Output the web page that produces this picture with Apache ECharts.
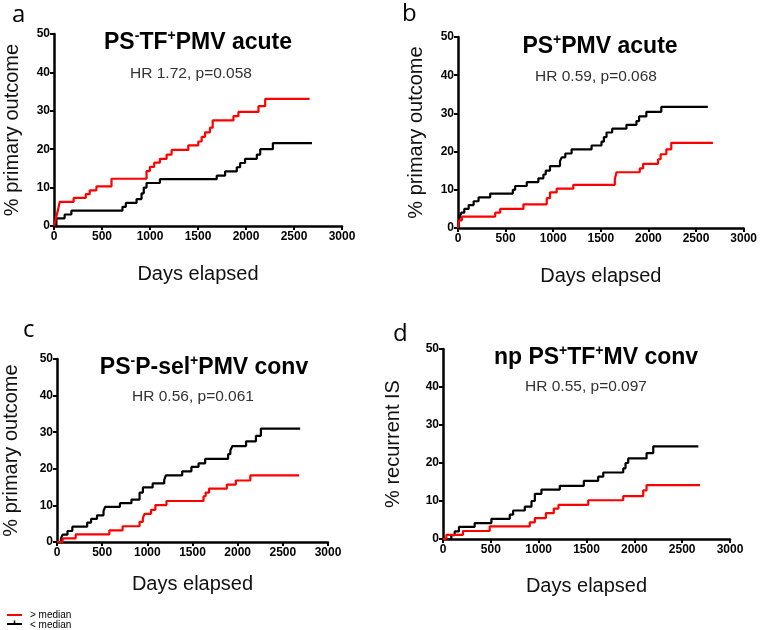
<!DOCTYPE html>
<html><head><meta charset="utf-8">
<script src="https://cdn.jsdelivr.net/npm/echarts@6/dist/echarts.min.js"></script>
<style>html,body{margin:0;padding:0;background:#fff}#c{width:760px;height:630px}</style>
</head><body><div id="c"></div><script>
// ---- tick labels ----
const xTickValues = [0, 500, 1000, 1500, 2000, 2500, 3000];
const yTickValues = [0, 10, 20, 30, 40, 50];

// ---- panel a: PS-TF+PMV acute ----
const aRedDays = [0, 20, 40, 60, 205, 331, 372, 442, 599, 964, 999, 1044, 1103, 1173, 1225, 1399, 1503, 1538, 1573, 1625, 1653, 1869, 1921, 2130, 2200, 2662];
const aRedPct  = [0, 2, 4, 6.3, 7.3, 8.3, 9.3, 10.3, 12.3, 14.3, 15.4, 16.5, 17.5, 18.6, 19.8, 21, 22, 23.2, 24.4, 25.6, 27.5, 28.6, 29.7, 31.2, 33.1, 33.1];
const aBlackDays = [0, 25, 111, 181, 713, 748, 860, 912, 935, 964, 1103, 1695, 1782, 1904, 1939, 1990, 2113, 2148, 2280, 2687];
const aBlackPct  = [0, 2, 3, 4, 5, 6, 7, 8.5, 10, 11.2, 12.2, 13.1, 14.2, 15.3, 16.4, 17.5, 18.6, 20, 21.6, 21.6];

// ---- panel b: PS+PMV acute ----
const bRedDays = [0, 10, 41, 391, 443, 687, 932, 966, 1036, 1211, 1647, 1665, 1909, 1944, 2101, 2128, 2188, 2240, 2677];
const bRedPct  = [0, 2, 3, 4, 5, 6.2, 7.8, 9.3, 10.3, 11.3, 12.8, 14.6, 15.6, 16.8, 18, 19.3, 20.6, 22.3, 22.3];
const bBlackDays = [0, 10, 20, 35, 66, 112, 164, 216, 338, 576, 600, 722, 844, 897, 921, 966, 1071, 1089, 1127, 1193, 1403, 1507, 1532, 1560, 1619, 1769, 1874, 1902, 1978, 2135, 2624];
const bBlackPct  = [0, 2, 3, 4, 5, 6, 7, 8, 9, 10, 11, 12, 13, 14, 15, 16.2, 17.5, 18.5, 19.5, 20.6, 21.6, 22.6, 23.8, 25, 26, 27, 28, 29.2, 30.4, 31.7, 31.7];

// ---- panel c: PS-P-sel+PMV conv ----
const cRedDays = [0, 62, 207, 580, 726, 914, 950, 969, 1041, 1089, 1212, 1622, 1645, 1684, 1880, 1980, 2140, 2680];
const cRedPct  = [0, 1, 2.1, 3.2, 4.3, 5.5, 6.5, 7.7, 8.8, 10.1, 11.2, 12.5, 13.5, 14.6, 15.7, 16.8, 18.2, 18.2];
const cBlackDays = [0, 44, 62, 116, 170, 334, 377, 443, 515, 533, 697, 824, 914, 951, 1059, 1187, 1205, 1386, 1488, 1567, 1640, 1894, 1919, 1941, 2093, 2202, 2257, 2692];
const cBlackPct  = [0, 1, 2, 3, 4.2, 5.3, 6.3, 7.3, 8.5, 9.6, 10.6, 11.6, 13.5, 14.9, 16, 17, 18.2, 19.3, 20.5, 21.5, 22.7, 24, 25, 26.2, 27.5, 29, 31, 31];

// ---- panel d: np PS+TF+MV conv ----
const dRedDays = [0, 35, 209, 488, 907, 960, 1075, 1158, 1207, 1518, 1884, 2093, 2128, 2686];
const dRedPct  = [0, 1.1, 2.1, 3.3, 4.4, 5.5, 6.8, 8, 9, 10.2, 11.3, 12.8, 14.2, 14.2];
const dBlackDays = [0, 87, 122, 167, 331, 506, 698, 733, 855, 925, 960, 1029, 1221, 1472, 1622, 1675, 1884, 1908, 1936, 2128, 2198, 2669];
const dBlackPct  = [0, 1, 2, 3.2, 4.2, 5.3, 6.4, 7.5, 8.5, 10, 11.9, 13, 14, 15.3, 16.4, 17.5, 18.6, 20, 21.2, 22.6, 24.4, 24.4];

const yAxisTitles = ['% primary outcome', '% primary outcome', '% primary outcome', '% recurrent IS'];
const xAxisTitle = 'Days elapsed';
const hrTexts = ['HR 1.72, p=0.058', 'HR 0.59, p=0.068', 'HR 0.56, p=0.061', 'HR 0.55, p=0.097'];
const panelLetters = ['a', 'b', 'c', 'd'];
const legendNames = ['> median', '< median'];

const F = "'Liberation Sans', Arial, sans-serif";
const zip = (xs, ys) => xs.map((x, i) => [x, ys[i]]);
const seriesData = [
  [zip(aRedDays, aRedPct), zip(aBlackDays, aBlackPct)],
  [zip(bRedDays, bRedPct), zip(bBlackDays, bBlackPct)],
  [zip(cRedDays, cRedPct), zip(cBlackDays, cBlackPct)],
  [zip(dRedDays, dRedPct), zip(dBlackDays, dBlackPct)]
];

// layout
const grids = [
  {left: 54, top: 34, width: 288, height: 192},
  {left: 458, top: 37, width: 286, height: 191},
  {left: 53, top: 359, width: 275, height: 183},
  {left: 443, top: 349, width: 287, height: 190}
];
const yNameGaps = [32, 32, 36, 40];
const xNameGaps = [38, 38, 32, 37];
const titlePos = [[198, 43], [600, 47], [204, 368], [596, 358]];
const hrPos = [[191, 74], [596, 77], [193, 397], [586, 387]];
const letterPos = [[12, 27], [402, 26], [23, 342], [393, 346]];

const richT = {
  b: {fontSize: 23, fontWeight: 'bold', fontFamily: F, fill: '#000', color: '#000', lineHeight: 28},
  s: {fontSize: 14, fontWeight: 'bold', fontFamily: F, fill: '#000', color: '#000', lineHeight: 14, verticalAlign: 'top'}
};
const titleTexts = [
  '{b|PS}{s|-}{b|TF}{s|+}{b|PMV acute}',
  '{b|PS}{s|+}{b|PMV acute}',
  '{b|PS}{s|-}{b|P-sel}{s|+}{b|PMV conv}',
  '{b|np PS}{s|+}{b|TF}{s|+}{b|MV conv}'
];

const xAxis = [], yAxis = [], series = [], graphic = [];
grids.forEach((g, i) => {
  xAxis.push({
    gridIndex: i, type: 'value',
    min: xTickValues[0], max: xTickValues[xTickValues.length - 1], interval: xTickValues[1] - xTickValues[0],
    name: xAxisTitle, nameLocation: 'middle', nameGap: xNameGaps[i],
    nameTextStyle: {fontSize: 20, fontFamily: F, color: '#111'},
    axisLine: {onZero: false, lineStyle: {color: '#000', width: 2.5}},
    axisTick: {length: 4, lineStyle: {color: '#000', width: 2}},
    axisLabel: {fontSize: 12, fontWeight: 'bold', fontFamily: F, color: '#000', margin: 5, formatter: v => String(v)},
    splitLine: {show: false}
  });
  yAxis.push({
    gridIndex: i, type: 'value',
    min: yTickValues[0], max: yTickValues[yTickValues.length - 1], interval: yTickValues[1] - yTickValues[0],
    name: yAxisTitles[i], nameLocation: 'middle', nameGap: yNameGaps[i],
    nameTextStyle: {fontSize: 20, fontFamily: F, color: '#111'},
    axisLine: {onZero: false, lineStyle: {color: '#000', width: 2.5}},
    axisTick: {length: 4, lineStyle: {color: '#000', width: 2}},
    axisLabel: {fontSize: 12, fontWeight: 'bold', fontFamily: F, color: '#000', margin: 4, formatter: v => String(v)},
    splitLine: {show: false}
  });
  series.push({
    type: 'line', name: legendNames[1], xAxisIndex: i, yAxisIndex: i, step: 'end',
    data: seriesData[i][1], showSymbol: false, symbol: 'none', animation: false,
    lineStyle: {color: '#000', width: 2.2}, itemStyle: {color: '#000'}
  });
  series.push({
    type: 'line', name: legendNames[0], xAxisIndex: i, yAxisIndex: i, step: 'end',
    data: seriesData[i][0], showSymbol: false, symbol: 'none', animation: false,
    lineStyle: {color: '#ff0000', width: 2.2}, itemStyle: {color: '#ff0000'}
  });
  graphic.push({
    type: 'text', x: titlePos[i][0], y: titlePos[i][1],
    style: {text: titleTexts[i], rich: richT, align: 'center', verticalAlign: 'middle'}
  });
  graphic.push({
    type: 'text', x: hrPos[i][0], y: hrPos[i][1],
    style: {text: hrTexts[i], fontSize: 15.5, fontFamily: F, fill: '#333', align: 'center', verticalAlign: 'middle'}
  });
  graphic.push({
    type: 'text', x: letterPos[i][0], y: letterPos[i][1],
    style: {text: panelLetters[i], fontSize: 24, fontFamily: "'Open Sans', sans-serif", fill: '#000', align: 'left', verticalAlign: 'bottom'}
  });
});

// legend (drawn)
graphic.push({type: 'line', shape: {x1: 7, y1: 615, x2: 22, y2: 615}, style: {stroke: '#ff0000', lineWidth: 2}});
graphic.push({type: 'line', shape: {x1: 7, y1: 624, x2: 22, y2: 624}, style: {stroke: '#000', lineWidth: 2}});
graphic.push({type: 'line', shape: {x1: 14.5, y1: 620.5, x2: 14.5, y2: 624}, style: {stroke: '#000', lineWidth: 1.5}});
graphic.push({type: 'text', x: 30, y: 615, style: {text: legendNames[0], fontSize: 10, fontFamily: F, fill: '#000', verticalAlign: 'middle'}});
graphic.push({type: 'text', x: 30, y: 625, style: {text: legendNames[1], fontSize: 10, fontFamily: F, fill: '#000', verticalAlign: 'middle'}});

const chart = echarts.init(document.getElementById('c'), null, {renderer: 'canvas'});
chart.setOption({
  animation: false,
  backgroundColor: '#fff',
  grid: grids,
  xAxis: xAxis,
  yAxis: yAxis,
  series: series,
  graphic: graphic
});
</script></body></html>
